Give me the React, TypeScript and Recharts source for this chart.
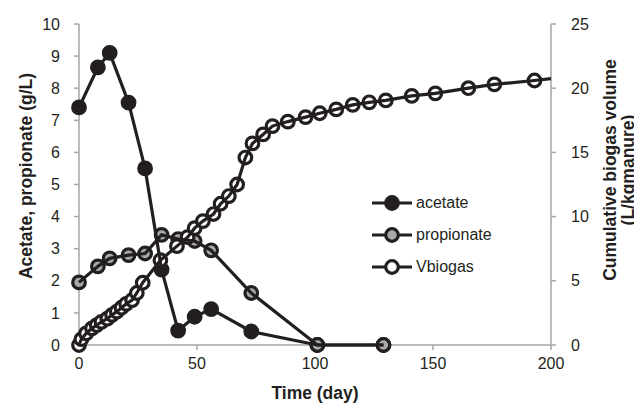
import { LineChart, Line, XAxis, YAxis } from "recharts";

const acetateDays = [0, 8, 13, 21, 28, 35, 42, 49, 56, 73, 101, 129];
const acetateValues = [7.4, 8.65, 9.1, 7.55, 5.5, 2.35, 0.45, 0.88, 1.12, 0.42, 0, 0];

const propionateDays = [0, 8, 13, 21, 28, 35, 42, 49, 56, 73, 101, 129];
const propionateValues = [1.95, 2.45, 2.7, 2.8, 2.85, 3.43, 3.3, 3.24, 2.95, 1.62, 0, 0];

const biogasDays = [
  0, 1, 3, 5.5, 7.5, 9.5, 12, 14, 16, 18, 20, 22.5, 24.5, 27, 34.5, 41.5, 46, 49, 52.5, 57,
  60, 63.5, 67, 70.5, 73.5, 78, 82, 88.5, 96, 102, 109, 116, 123, 130, 141, 151, 165, 176, 193, 200,
];
const biogasValues = [
  0, 0.45, 0.9, 1.3, 1.55, 1.8, 2.05, 2.35, 2.6, 2.9, 3.2, 3.5, 4.05, 4.85, 6.6, 7.7, 8.4, 9.1,
  9.65, 10.2, 11, 11.6, 12.5, 14.6, 15.7, 16.4, 17.05, 17.4, 17.75, 18.05, 18.35, 18.7, 18.9,
  19.05, 19.4, 19.6, 20, 20.3, 20.6, 20.75,
];

const xTicks = [0, 50, 100, 150, 200];
const leftTicks = [0, 1, 2, 3, 4, 5, 6, 7, 8, 9, 10];
const rightTicks = [0, 5, 10, 15, 20, 25];

const INK = "#231f20";
const GREY = "#a7a9ac";
const AXIS = "#a6a6a6";
const FONT = "'Liberation Sans', Arial, sans-serif";

const acetate = acetateDays.map((day, i) => ({ day, v: acetateValues[i] }));
const propionate = propionateDays.map((day, i) => ({ day, v: propionateValues[i] }));
const biogas = biogasDays.map((day, i) => ({ day, v: biogasValues[i] }));

const makeDot = (fill: string, skipLast = false, count = 0) => (props: any) => {
  const { cx, cy, index } = props;
  if (skipLast && index === count - 1) return <g key={`d${index}`} />;
  return (
    <circle key={`d${index}`} cx={cx} cy={cy} r={6.3} fill={fill} stroke={INK} strokeWidth={3.2} />
  );
};

const legendItems = [
  { name: "acetate", fill: INK },
  { name: "propionate", fill: GREY },
  { name: "Vbiogas", fill: "#ffffff" },
];

function LegendBox() {
  return (
    <div
      style={{
        position: "absolute",
        left: 364,
        top: 179,
        fontFamily: FONT,
        fontSize: 16,
        color: INK,
      }}
    >
      {legendItems.map((it) => (
        <div key={it.name} style={{ display: "flex", alignItems: "center", height: 32 }}>
          <svg width={42} height={20} style={{ display: "block" }}>
            <line x1={0} y1={10} x2={40} y2={10} stroke={INK} strokeWidth={3.2} />
            <circle cx={20} cy={10} r={6.3} fill={it.fill} stroke={INK} strokeWidth={3.2} />
          </svg>
          <span style={{ marginLeft: 2 }}>{it.name}</span>
        </div>
      ))}
    </div>
  );
}

const tickStyle = { fill: INK, fontSize: 16, fontFamily: FONT };

const titleProps = {
  textAnchor: "middle" as const,
  fontFamily: FONT,
  fontSize: 17.5,
  fontWeight: "bold",
  fill: INK,
};

export default function App() {
  return (
    <div style={{ position: "relative", width: 634, height: 400 }}>
      <LineChart
        width={634}
        height={400}
        margin={{ top: 16, right: 0, bottom: 0, left: 0 }}
        style={{ overflow: "visible" }}
      >
        <XAxis
          type="number"
          dataKey="day"
          domain={[0, 200]}
          ticks={xTicks}
          interval={0}
          stroke={AXIS}
          strokeWidth={1.5}
          tickSize={5}
          tickMargin={8}
          tick={tickStyle}
          height={63}
          label={{
            content: () => (
              <text x={307} y={391} {...titleProps}>
                Time (day)
              </text>
            ),
          }}
        />
        <YAxis
          yAxisId="left"
          domain={[0, 10]}
          ticks={leftTicks}
          interval={0}
          stroke={AXIS}
          strokeWidth={1.5}
          tickSize={5}
          tickMargin={14}
          tick={tickStyle}
          width={71}
          label={{
            content: () => (
              <text x={24} y={168} transform="rotate(-90 24 168)" {...titleProps}>
                Acetate, propionate (g/L)
              </text>
            ),
          }}
        />
        <YAxis
          yAxisId="right"
          orientation="right"
          domain={[0, 25]}
          ticks={rightTicks}
          interval={0}
          stroke={AXIS}
          strokeWidth={1.5}
          tickSize={5}
          tickMargin={15}
          tick={tickStyle}
          width={91}
          label={{
            content: () => (
              <g>
                <text x={608} y={162} transform="rotate(-90 608 162)" {...titleProps}>
                  Cumulative biogas volume
                </text>
                <text x={626} y={162} transform="rotate(-90 626 162)" {...titleProps}>
                  (L/kgmanure)
                </text>
              </g>
            ),
          }}
        />
        <Line
          yAxisId="left"
          data={acetate}
          dataKey="v"
          name="acetate"
          stroke={INK}
          strokeWidth={3.2}
          dot={makeDot(INK)}
          isAnimationActive={false}
          zIndex={1000}
        />
        <Line
          yAxisId="left"
          data={propionate}
          dataKey="v"
          name="propionate"
          stroke={INK}
          strokeWidth={3.2}
          dot={makeDot(GREY)}
          isAnimationActive={false}
          zIndex={1001}
        />
        <Line
          yAxisId="right"
          data={biogas}
          dataKey="v"
          name="Vbiogas"
          stroke={INK}
          strokeWidth={3.2}
          dot={makeDot("#ffffff", true, biogas.length)}
          isAnimationActive={false}
          zIndex={1002}
        />
      </LineChart>
      <LegendBox />
    </div>
  );
}
